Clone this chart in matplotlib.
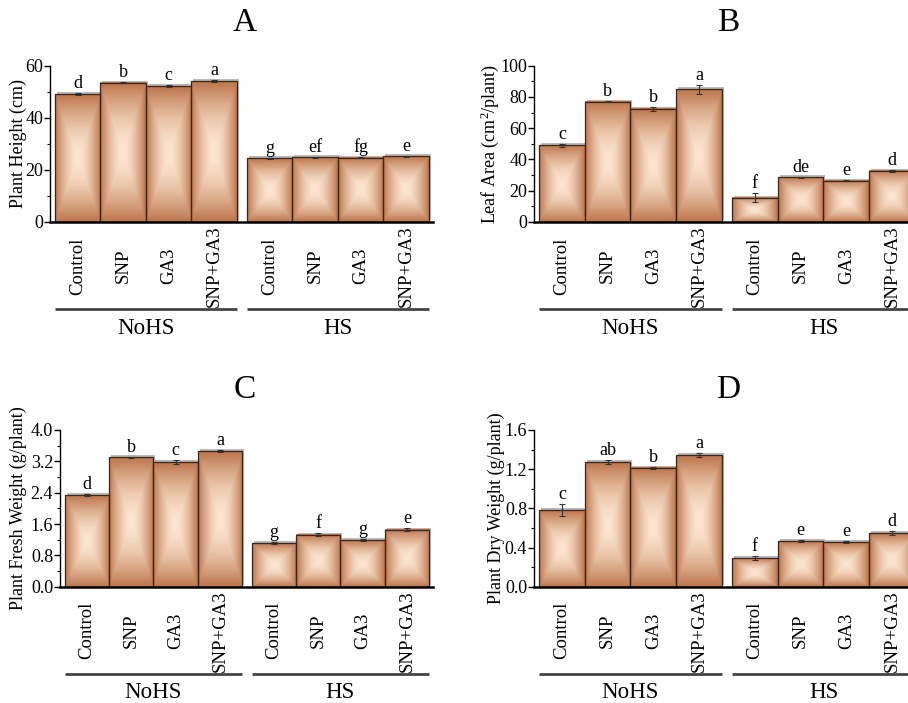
import numpy as np
import matplotlib
matplotlib.use("Agg")
import matplotlib.pyplot as plt
from matplotlib.transforms import ScaledTranslation
from matplotlib.ticker import MultipleLocator

plt.rcParams['font.family'] = ['Liberation Serif', 'DejaVu Serif']
plt.rcParams['mathtext.fontset'] = 'custom'
plt.rcParams['mathtext.rm'] = 'Liberation Serif'
plt.rcParams['mathtext.it'] = 'Liberation Serif:italic'

# ---- data ----
treatments = ["Control", "SNP", "GA3", "SNP+GA3"]
groups = ["NoHS", "HS"]

height_vals = [49.1, 53.5, 52.1, 54.1, 24.4, 24.9, 24.6, 25.3]
height_err = [0.3, 0.3, 0.3, 0.4, 0.2, 0.2, 0.2, 0.2]
height_let = ["d", "b", "c", "a", "g", "ef", "fg", "e"]

leaf_vals = [49.1, 77.0, 72.3, 84.9, 15.5, 28.7, 26.4, 32.7]
leaf_err = [0.8, 0.5, 1.5, 3.0, 3.0, 0.3, 0.4, 0.4]
leaf_let = ["c", "b", "b", "a", "f", "de", "e", "d"]

fresh_vals = [2.34, 3.30, 3.18, 3.47, 1.12, 1.33, 1.19, 1.46]
fresh_err = [0.03, 0.02, 0.05, 0.03, 0.03, 0.03, 0.02, 0.05]
fresh_let = ["d", "b", "c", "a", "g", "f", "g", "e"]

dry_vals = [0.786, 1.27, 1.216, 1.345, 0.296, 0.467, 0.457, 0.548]
dry_err = [0.06, 0.02, 0.01, 0.02, 0.02, 0.01, 0.01, 0.02]
dry_let = ["c", "ab", "b", "a", "f", "e", "e", "d"]

panels = [
    dict(title="A", vals=height_vals, err=height_err, let=height_let,
         ylabel="Plant Height (cm)", ymax=60, major=20, minor=10, fmt="{:.0f}",
         rect=[50, 65.7, 433, 222], ylx=18),
    dict(title="B", vals=leaf_vals, err=leaf_err, let=leaf_let,
         ylabel="Leaf Area (cm$^2$/plant)", ymax=100, major=20, minor=10, fmt="{:.0f}",
         rect=[534, 65.7, 919, 222], ylx=490),
    dict(title="C", vals=fresh_vals, err=fresh_err, let=fresh_let,
         ylabel="Plant Fresh Weight (g/plant)", ymax=4.0, major=0.8, minor=0.4, fmt="{:.1f}",
         rect=[60, 430, 433, 586.7], ylx=18),
    dict(title="D", vals=dry_vals, err=dry_err, let=dry_let,
         ylabel="Plant Dry Weight (g/plant)", ymax=1.6, major=0.4, minor=0.2, fmt="{:.1f}",
         rect=[534, 430, 919, 586.7], ylx=496),
]

W, H = 908, 703
fig = plt.figure(figsize=(W / 100, H / 100), dpi=100)

edge_col = np.array([188, 116, 74]) / 255.0
center_col = np.array([252, 230, 208]) / 255.0

gap = 0.22
positions = [0, 1, 2, 3, 4 + gap, 5 + gap, 6 + gap, 7 + gap]
bw = 1.0

# gradient image (rectangular gradient: light centre, darker edges)
n = 200
u = np.linspace(-1, 1, n)
U, V = np.meshgrid(u, u)
T = np.maximum(np.abs(U), np.abs(V))
F = T ** 1.7
grad = center_col[None, None, :] + (edge_col - center_col)[None, None, :] * F[:, :, None]

for p in panels:
    x0, y0, x1, y1 = p["rect"]
    ax = fig.add_axes([x0 / W, 1 - y1 / H, (x1 - x0) / W, (y1 - y0) / H])
    vals, err = p["vals"], p["err"]

    shadow_tr = ax.transData + ScaledTranslation(2 / 100, 2 / 100, fig.dpi_scale_trans)
    ax.bar(positions, vals, width=bw, color="#b8b8b8", edgecolor="none",
           transform=shadow_tr, zorder=1)
    for xp, v in zip(positions, vals):
        ax.imshow(grad, extent=(xp - bw / 2, xp + bw / 2, 0, v), aspect="auto",
                  origin="lower", zorder=2, interpolation="bilinear")
    ax.bar(positions, vals, width=bw, color="none", edgecolor="#3a2618",
           linewidth=0.9, zorder=3)
    ax.errorbar(positions, vals, yerr=err, fmt="none", ecolor="#333333",
                elinewidth=0.8, capsize=2, capthick=0.8, zorder=4)
    for xp, v, e, l in zip(positions, vals, err, p["let"]):
        ax.annotate(l, xy=(xp, v + e), xytext=(0, 1), textcoords="offset pixels",
                    ha="center", va="bottom", fontsize=13, zorder=5)

    ax.set_xlim(-0.5 - 0.11, 7 + gap + 0.5 + 0.09)
    ax.set_ylim(0, p["ymax"])
    ax.yaxis.set_minor_locator(MultipleLocator(p["minor"]))
    ticks = np.arange(0, p["ymax"] + p["major"] / 2, p["major"])
    ax.set_yticks(ticks)
    ax.set_yticklabels([p["fmt"].format(t) for t in ticks], fontsize=13)
    ax.tick_params(axis="y", which="major", length=4, width=1, pad=1, direction="out")
    ax.tick_params(axis="y", which="minor", length=2.5, width=0.8, direction="out")
    ax.set_xticks([])
    ax.spines["top"].set_visible(False)
    ax.spines["right"].set_visible(False)
    ax.spines["left"].set_linewidth(1.0)
    ax.spines["bottom"].set_linewidth(1.8)
    ax.spines["bottom"].set_zorder(6)

    # treatment labels
    for i, xp in enumerate(positions):
        ax.annotate(treatments[i % 4], xy=(xp, 0), xycoords=("data", "axes fraction"),
                    xytext=(0, -44), textcoords="offset pixels", rotation=90,
                    ha="center", va="center", fontsize=13.5, annotation_clip=False)
    # group lines and labels
    for g in range(2):
        xs = positions[g * 4] - bw / 2
        xe = positions[g * 4 + 3] + bw / 2
        line_y = -87 / (y1 - y0)
        ax.plot([xs, xe], [line_y, line_y], transform=ax.get_xaxis_transform(),
                color="#444444", lw=2.0, clip_on=False, solid_capstyle="butt")
        ax.annotate(groups[g], xy=((xs + xe) / 2, 0), xycoords=("data", "axes fraction"),
                    xytext=(0, -106), textcoords="offset pixels",
                    ha="center", va="center", fontsize=16.5, annotation_clip=False)

    fig.text(p["ylx"] / W, 1 - ((y0 + y1) / 2) / H, p["ylabel"], rotation=90,
             ha="center", va="center", fontsize=13)
    title_x = 245 if p["title"] in ("A", "C") else 728
    title_y = 23 if p["title"] in ("A", "B") else 390
    fig.text(title_x / W, 1 - title_y / H, p["title"], ha="center", va="center",
             fontsize=24)

fig.savefig("out.png", dpi=100)
